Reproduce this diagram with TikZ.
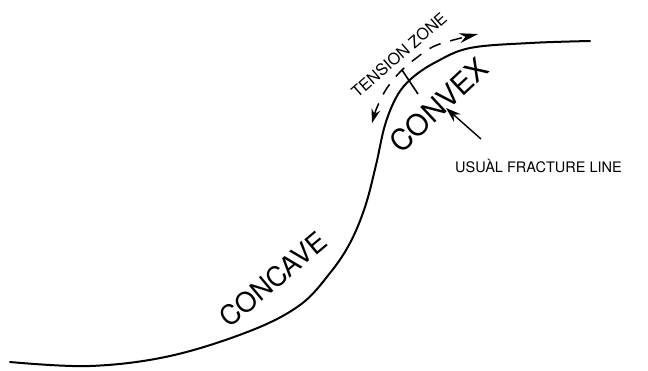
\documentclass[tikz,border=0pt]{standalone}
\usepackage{fontspec}
\setmainfont{TeX Gyre Heros}
\usetikzlibrary{arrows.meta}

\begin{document}
\begin{tikzpicture}[x=1pt,y=-1pt,
    slope/.style={line width=2pt,line cap=round},
    lbl/.style={inner sep=0pt,anchor=center},
    ar/.style={-{Stealth[length=15pt,width=10pt]},line width=1.4pt},
    tz/.style={{Stealth[length=14pt,width=9pt]}-{Stealth[length=19pt,width=10pt]},
      line width=1.5pt,dash pattern=on 12pt off 10pt},
  ]
    \useasboundingbox (0,0) rectangle (648,370);

    % hillside profile
    \draw[slope] plot[smooth,tension=0.6] coordinates {
      (10,362) (90,366) (170,356) (250,331) (300,305) (330,273)
      (350,243) (365,207) (376,165) (385,125) (397,96) (412,78)
      (436,62) (470,48) (530,43) (590,41)};

    % tension zone arc and break mark
    \draw[tz] plot[smooth,tension=0.6] coordinates {
      (372,123) (378,105) (387,88) (400,72) (415,59) (437,45) (478,34)};
    \coordinate (brka) at (402,70);
    \coordinate (brkb) at (418,94);
    \draw[line width=1.6pt] (brka) -- (brkb);

    \node[lbl,rotate=40,font=\fontsize{27}{27}\selectfont] (concave) at (273,279) {CONCAVE};
    \node[lbl,rotate=43,font=\fontsize{29}{29}\selectfont] (convex) at (439,105) {CONVEX};
    \node[lbl,rotate=41,font=\fontsize{16}{16}\selectfont] (tension) at (399,55) {TENSION ZONE};
    \node[lbl,anchor=west,font=\fontsize{14.5}{14.5}\selectfont] (fracture) at (455,166) {USUÀL FRACTURE LINE};

    \coordinate (frtail) at (481,139);
    \coordinate (frhead) at (446,108);
    \draw[ar] (frtail) -- (frhead);
  \end{tikzpicture}
\end{document}
